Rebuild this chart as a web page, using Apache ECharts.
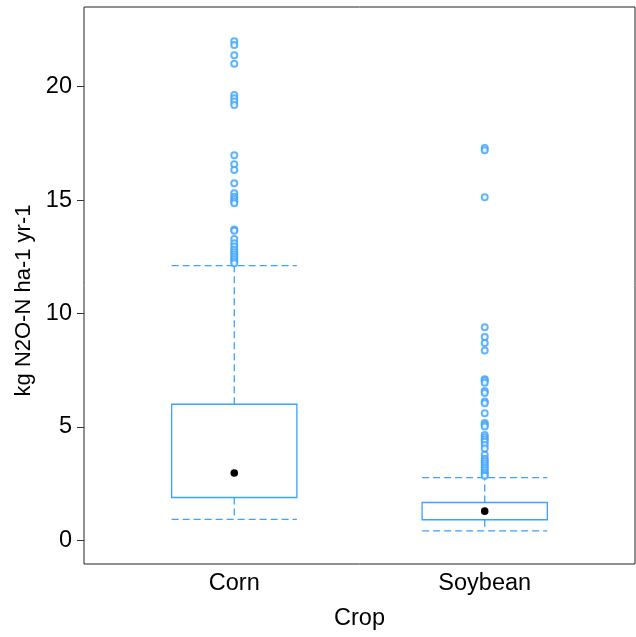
<!DOCTYPE html>
<html>
<head>
<meta charset="utf-8">
<script src="https://cdn.jsdelivr.net/npm/echarts@6/dist/echarts.min.js"></script>
<style>html,body{margin:0;padding:0;background:#fff;}#chart{width:636px;height:637px;}</style>
</head>
<body>
<div id="chart"></div>
<script>
const categories = ['Corn', 'Soybean'];
const whiskerLow = [0.93, 0.42];
const q1 = [1.89, 0.91];
const median = [2.97, 1.29];
const q3 = [6.0, 1.67];
const whiskerHigh = [12.11, 2.77];
const cornOutliers = [22.0, 21.84, 21.38, 21.01, 19.63, 19.49, 19.34, 19.19, 16.98, 16.58, 16.33, 15.74,
  15.3, 15.15, 15.05, 14.95, 14.86, 13.7, 13.65, 13.28, 13.1, 12.95, 12.81, 12.7, 12.6, 12.5, 12.4, 12.3, 12.22];
const soybeanOutliers = [17.3, 17.2, 15.13, 9.4, 8.96, 8.7, 8.37, 7.1, 7.05, 6.95, 6.58, 6.5, 6.12, 6.05, 5.6,
  5.18, 5.1, 5.02, 4.65, 4.55, 4.45, 4.35, 4.2, 4.05, 3.78, 3.6, 3.5, 3.4, 3.3, 3.2, 3.1, 3.0, 2.92, 2.85];
const yTicks = [0, 5, 10, 15, 20];

const blue = '#3AA2FF';
const font = 'Liberation Sans';
const boxData = categories.map((c, i) => [i + 1, whiskerLow[i], q1[i], median[i], q3[i], whiskerHigh[i]]);
const outlierData = [];
cornOutliers.forEach(v => outlierData.push([1, v]));
soybeanOutliers.forEach(v => outlierData.push([2, v]));

const chart = echarts.init(document.getElementById('chart'));
chart.setOption({
  animation: false,
  grid: { left: 84, top: 7, width: 551, height: 557, show: true, borderColor: '#222', borderWidth: 1 },
  xAxis: {
    type: 'value', min: 0.4, max: 2.6,
    name: 'Crop', nameLocation: 'middle', nameGap: 43,
    nameTextStyle: { fontSize: 23.5, color: '#000', fontFamily: font },
    axisLine: { show: false, onZero: false },
    splitLine: { show: false },
    axisTick: { show: false },
    axisLabel: { customValues: [1, 2], formatter: v => categories[Math.round(v) - 1], fontSize: 23.5, color: '#000', margin: 8, fontFamily: font }
  },
  yAxis: {
    type: 'value', min: -1.04, max: 23.51,
    name: 'kg N2O-N ha-1 yr-1', nameLocation: 'middle', nameGap: 43,
    nameTextStyle: { fontSize: 22, color: '#000', fontFamily: font, padding: [0, 30, 0, 0] },
    axisLine: { show: false, onZero: false },
    splitLine: { show: false },
    axisTick: { show: true, customValues: yTicks, length: 7, lineStyle: { color: '#333' } },
    axisLabel: { customValues: yTicks, fontSize: 23.5, color: '#000', margin: 12, fontFamily: font }
  },
  series: [
    {
      type: 'custom',
      data: boxData,
      renderItem: function (params, api) {
        const x = api.value(0);
        const hw = 0.25;
        const pLow = api.coord([x, api.value(1)]);
        const pQ1 = api.coord([x, api.value(2)]);
        const pMed = api.coord([x, api.value(3)]);
        const pQ3 = api.coord([x, api.value(4)]);
        const pHigh = api.coord([x, api.value(5)]);
        const left = api.coord([x - hw, 0])[0];
        const right = api.coord([x + hw, 0])[0];
        const dash = { stroke: blue, lineWidth: 1.3, lineDash: [7, 4], fill: null };
        return {
          type: 'group',
          children: [
            { type: 'line', shape: { x1: pQ3[0], y1: pQ3[1], x2: pHigh[0], y2: pHigh[1] }, style: dash },
            { type: 'line', shape: { x1: pQ1[0], y1: pQ1[1], x2: pLow[0], y2: pLow[1] }, style: dash },
            { type: 'line', shape: { x1: left, y1: pHigh[1], x2: right, y2: pHigh[1] }, style: dash },
            { type: 'line', shape: { x1: left, y1: pLow[1], x2: right, y2: pLow[1] }, style: dash },
            { type: 'rect', shape: { x: left, y: pQ3[1], width: right - left, height: pQ1[1] - pQ3[1] },
              style: { stroke: blue, lineWidth: 1.3, fill: '#fff' } },
            { type: 'circle', shape: { cx: pMed[0], cy: pMed[1], r: 3.8 }, style: { fill: '#000' } }
          ]
        };
      },
      z: 2
    },
    {
      type: 'scatter',
      data: outlierData,
      symbol: 'emptyCircle',
      symbolSize: 6,
      itemStyle: { color: blue, borderColor: blue, borderWidth: 1 },
      z: 3
    }
  ]
});
</script>
</body>
</html>
